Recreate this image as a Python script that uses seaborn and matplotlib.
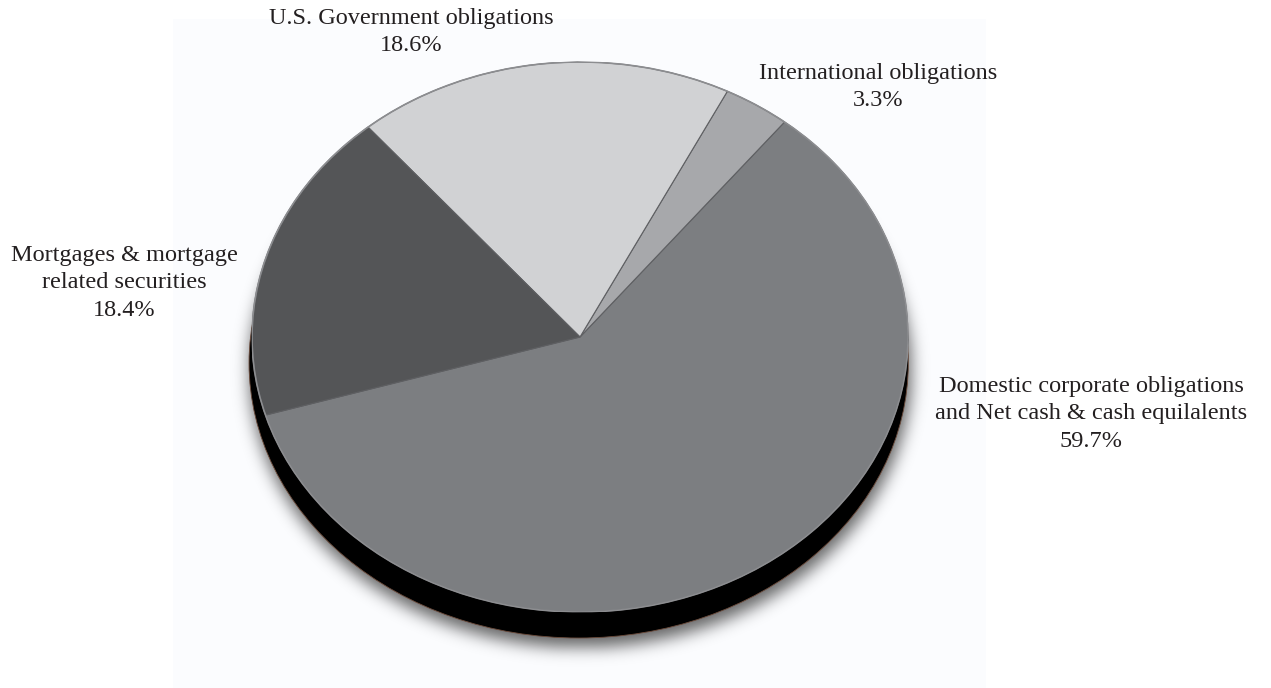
import numpy as np
import matplotlib
matplotlib.use("Agg")
import matplotlib.pyplot as plt
from matplotlib.patches import Ellipse, Rectangle
import seaborn as sns

# Portfolio composition
categories = [
    "Domestic corporate obligations\nand Net cash & cash equilalents",
    "International obligations",
    "U.S. Government obligations",
    "Mortgages & mortgage\nrelated securities",
]
shares = [59.7, 3.3, 18.6, 18.4]
slice_colors = ["#7c7e81", "#a7a8ab", "#d1d2d4", "#545557"]
label_pos = [(1091, 414), (878, 87), (411, 32), (124, 283)]

sns.set_theme(style="white")
plt.rcParams["font.family"] = ["Liberation Serif", "DejaVu Serif"]

W, H = 1271, 688
fig = plt.figure(figsize=(W / 100, H / 100), dpi=100)
fig.patch.set_facecolor("white")

# background layer in pixel coordinates (y downwards)
bg = fig.add_axes([0, 0, 1, 1])
bg.set_xlim(0, W)
bg.set_ylim(H, 0)
bg.axis("off")
bg.add_patch(Rectangle((173, 19), 813, H - 19, facecolor="#fbfcfe", edgecolor="none"))

# soft drop shadow under the disc
cx, cy, rx, ry = 580, 337, 328, 275
depth_px = 26
yy, xx = np.mgrid[0:H, 0:W]
mask = ((((xx - cx) / (rx + 3)) ** 2 + ((yy - (cy + depth_px + 7)) / (ry + 2)) ** 2) <= 1).astype(float)
sigma = 8
k = np.arange(-28, 29)
g = np.exp(-k ** 2 / (2 * sigma ** 2))
g /= g.sum()
blur = np.apply_along_axis(lambda r: np.convolve(r, g, mode="same"), 1, mask)
blur = np.apply_along_axis(lambda c: np.convolve(c, g, mode="same"), 0, blur)
rgba = np.zeros((H, W, 4))
rgba[..., 3] = blur * 0.6
bg.imshow(rgba, extent=(0, W, H, 0), interpolation="none", zorder=1)
bg.set_xlim(0, W)
bg.set_ylim(H, 0)

# pie axes stretched to an ellipse
pa = fig.add_axes([(cx - rx) / W, (H - (cy + ry)) / H, 2 * rx / W, 2 * ry / H])
pa.patch.set_alpha(0)
pa.add_patch(Ellipse((-0.004, -depth_px / ry), 2.01, 2.0, facecolor="black",
                     edgecolor="#6b4a3a", lw=0.6, clip_on=False, zorder=0.5))
wedges, _ = pa.pie(shares, colors=slice_colors, startangle=196.5, counterclock=True,
                   radius=1, frame=False,
                   wedgeprops=dict(edgecolor="#5f6063", linewidth=0.8))
pa.add_patch(Ellipse((0, 0), 2, 2, facecolor="none", edgecolor="#8c8d90", lw=1.2, zorder=3))
pa.set_aspect("auto")
pa.set_xlim(-1, 1)
pa.set_ylim(-1, 1)
pa.axis("off")

for name, val, (tx, ty) in zip(categories, shares, label_pos):
    bg.text(tx, ty, f"{name}\n{val:.1f}%", ha="center", va="center",
            multialignment="center", fontsize=17.5, color="#231f20",
            linespacing=1.42, zorder=5)

fig.savefig("out.png", dpi=100, facecolor="white")
